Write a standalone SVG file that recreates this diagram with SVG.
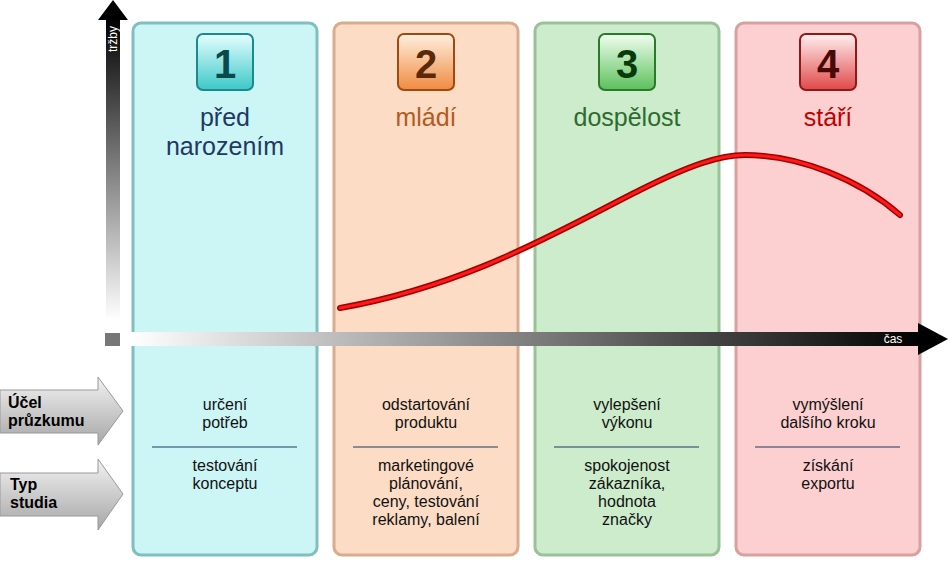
<svg xmlns="http://www.w3.org/2000/svg" width="950" height="569" viewBox="0 0 950 569">
<defs>
<linearGradient id="vg" x1="0" y1="0" x2="0" y2="1"><stop offset="0" stop-color="#000"/><stop offset="1" stop-color="#fff"/></linearGradient>
<linearGradient id="hg" x1="0" y1="0" x2="1" y2="0"><stop offset="0" stop-color="#fff"/><stop offset="1" stop-color="#000"/></linearGradient>
<linearGradient id="ag" x1="0" y1="0" x2="0" y2="1"><stop offset="0" stop-color="#f2f2f2"/><stop offset="1" stop-color="#a6a6a6"/></linearGradient>
<linearGradient id="b1" x1="0" y1="0" x2="0" y2="1"><stop offset="0" stop-color="#e6ffff"/><stop offset="1" stop-color="#3cc8c8"/></linearGradient>
<linearGradient id="b2" x1="0" y1="0" x2="0" y2="1"><stop offset="0" stop-color="#fff0e0"/><stop offset="1" stop-color="#f08a40"/></linearGradient>
<linearGradient id="b3" x1="0" y1="0" x2="0" y2="1"><stop offset="0" stop-color="#f0fff0"/><stop offset="1" stop-color="#5cc05c"/></linearGradient>
<linearGradient id="b4" x1="0" y1="0" x2="0" y2="1"><stop offset="0" stop-color="#fff0f0"/><stop offset="1" stop-color="#e04848"/></linearGradient>
</defs>
<style>
text{font-family:"Liberation Sans",Arial,sans-serif;text-anchor:middle}
.t{font-size:16px;fill:#111}
.h{font-size:25px}
.n{font-size:40px;font-weight:bold}
.l{font-size:16px;font-weight:bold;text-anchor:start;fill:#000}
.d{stroke:#1f3864;stroke-width:1}
</style>
<g id="p1">
<rect x="133" y="23" width="184" height="532" rx="8" fill="#ccf5f5" stroke="#80bfbf" stroke-width="3"/>
<rect x="197" y="34" width="56" height="56" rx="6" fill="url(#b1)" stroke="#1a8a8a" stroke-width="2"/>
<text x="225" y="78" class="n" fill="#0a4a4a">1</text>
<text x="225" y="126" class="h" fill="#1f3864">před</text>
<text x="225" y="155" class="h" fill="#1f3864">narozením</text>
<text x="225" y="410" class="t">určení</text><text x="225" y="428" class="t">potřeb</text>
<line x1="152" y1="447" x2="297" y2="447" class="d"/>
<text x="225" y="471" class="t">testování</text><text x="225" y="489" class="t">konceptu</text>
</g>
<g id="p2">
<rect x="334" y="23" width="184" height="532" rx="8" fill="#fcdcc5" stroke="#d9ac8f" stroke-width="3"/>
<rect x="398" y="34" width="56" height="56" rx="6" fill="url(#b2)" stroke="#a04a10" stroke-width="2"/>
<text x="426" y="78" class="n" fill="#5a2a08">2</text>
<text x="426" y="126" class="h" fill="#b35a1f">mládí</text>
<text x="426" y="410" class="t">odstartování</text><text x="426" y="428" class="t">produktu</text>
<line x1="353" y1="447" x2="498" y2="447" class="d"/>
<text x="426" y="471" class="t">marketingové</text><text x="426" y="489" class="t">plánování,</text><text x="426" y="507" class="t">ceny, testování</text><text x="426" y="525" class="t">reklamy, balení</text>
</g>
<g id="p3">
<rect x="535" y="23" width="184" height="532" rx="8" fill="#cceccc" stroke="#99c299" stroke-width="3"/>
<rect x="599" y="34" width="56" height="56" rx="6" fill="url(#b3)" stroke="#2a7a2a" stroke-width="2"/>
<text x="627" y="78" class="n" fill="#0a3a0a">3</text>
<text x="627" y="126" class="h" fill="#2e6b2e">dospělost</text>
<text x="627" y="410" class="t">vylepšení</text><text x="627" y="428" class="t">výkonu</text>
<line x1="554" y1="447" x2="699" y2="447" class="d"/>
<text x="627" y="471" class="t">spokojenost</text><text x="627" y="489" class="t">zákazníka,</text><text x="627" y="507" class="t">hodnota</text><text x="627" y="525" class="t">značky</text>
</g>
<g id="p4">
<rect x="736" y="23" width="184" height="532" rx="8" fill="#fcd0d0" stroke="#d9a0a0" stroke-width="3"/>
<rect x="800" y="34" width="56" height="56" rx="6" fill="url(#b4)" stroke="#901818" stroke-width="2"/>
<text x="828" y="78" class="n" fill="#4a0808">4</text>
<text x="828" y="126" class="h" fill="#c00000">stáří</text>
<text x="828" y="410" class="t">vymýšlení</text><text x="828" y="428" class="t">dalšího kroku</text>
<line x1="755" y1="447" x2="900" y2="447" class="d"/>
<text x="828" y="471" class="t">získání</text><text x="828" y="489" class="t">exportu</text>
</g>
<g id="axes">
<rect x="106" y="18" width="14" height="302" fill="url(#vg)"/>
<polygon points="113,0 98,20 128,20" fill="#000"/>
<text x="0" y="0" transform="translate(117,52) rotate(-90)" style="font-size:12px;fill:#fff;text-anchor:start">tržby</text>
<rect x="105" y="333" width="15" height="13" fill="#777"/>
<rect x="130" y="332" width="792" height="14" fill="url(#hg)"/>
<polygon points="948,339 918,323 918,355" fill="#000"/>
<text x="893" y="343" style="font-size:12px;fill:#fff">čas</text>
</g>
<g id="connectors">
<path d="M340,308 C470,285 560,230 640,190 C690,165 720,155 745,155 C800,155 860,180 900,215" fill="none" stroke="#a00000" stroke-width="6" stroke-linecap="round"/>
<path d="M340,308 C470,285 560,230 640,190 C690,165 720,155 745,155 C800,155 860,180 900,215" fill="none" stroke="#ff1a1a" stroke-width="3" stroke-linecap="round"/>
</g>
<g id="ucel">
<polygon points="0,390 98,390 98,377 123,411 98,445 98,433 0,433" fill="url(#ag)" stroke="#999"/>
<text x="8" y="408" class="l">Účel</text><text x="8" y="426" class="l">průzkumu</text>
</g>
<g id="typ">
<polygon points="0,473 98,473 98,459 123,494 98,530 98,516 0,516" fill="url(#ag)" stroke="#999"/>
<text x="10" y="490" class="l">Typ</text><text x="10" y="508" class="l">studia</text>
</g>
</svg>
